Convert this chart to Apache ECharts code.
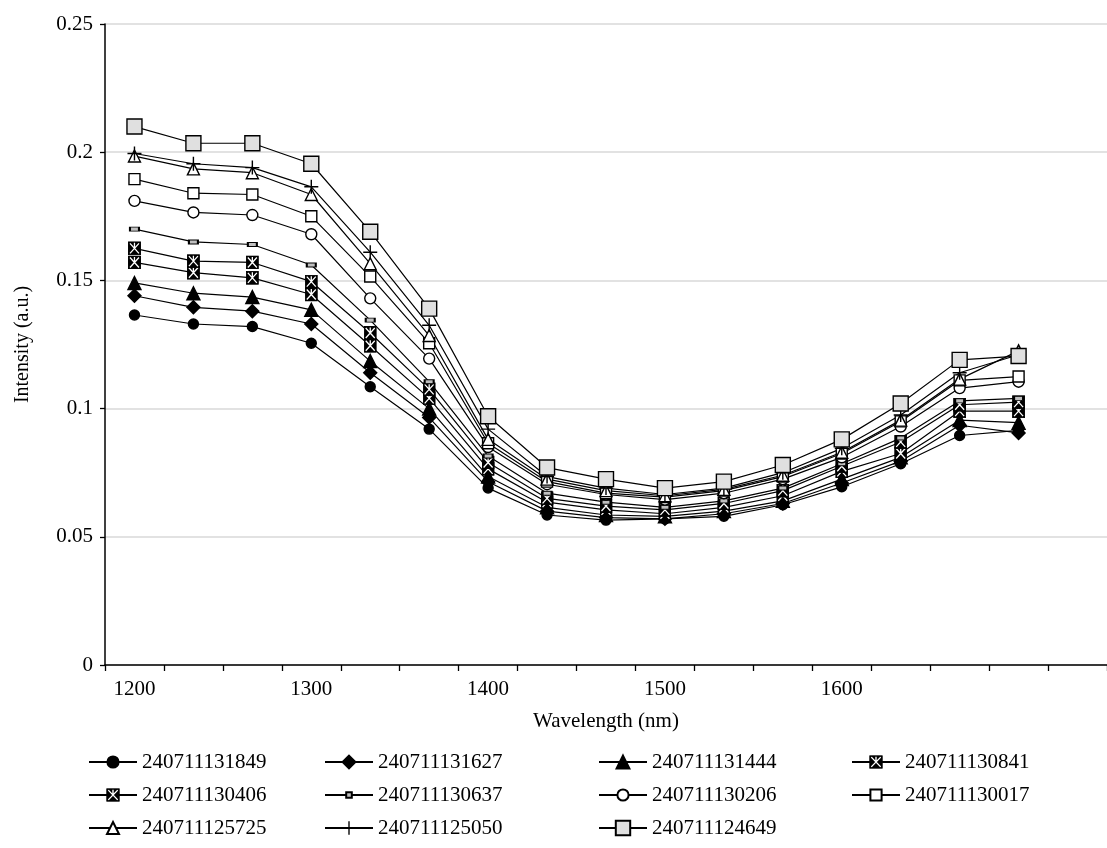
<!DOCTYPE html>
<html>
<head>
<meta charset="utf-8">
<script src="https://cdn.jsdelivr.net/npm/echarts@6/dist/echarts.min.js"></script>
<style>
  html, body { margin: 0; padding: 0; background: #fff; }
  #chart { width: 1107px; height: 848px; }
</style>
</head>
<body>
<div id="chart"></div>
<script>
'use strict';
// ---- data ----------------------------------------------------------------- //
// 16 measured points on a category axis, one spare empty slot at the end.
const wavelengths = ['1200', '1233', '1267', '1300', '1333', '1367', '1400', '1433', '1467',
  '1500', '1533', '1567', '1600', '1633', '1667', '1700', '1733'];
const shownTicks = ['1200', '1300', '1400', '1500', '1600'];

const s131849 = [0.1365, 0.133, 0.132, 0.1255, 0.1085, 0.092, 0.069, 0.0585, 0.0565, 0.057, 0.058, 0.0625, 0.0695, 0.0785, 0.0895, 0.0915];
const s131627 = [0.144, 0.1395, 0.138, 0.133, 0.114, 0.0965, 0.0715, 0.060, 0.0575, 0.057, 0.059, 0.063, 0.071, 0.0795, 0.0935, 0.0905];
const s131444 = [0.149, 0.145, 0.1435, 0.1385, 0.1185, 0.100, 0.0735, 0.0615, 0.0585, 0.058, 0.060, 0.064, 0.0725, 0.081, 0.0955, 0.0945];
const s130841 = [0.157, 0.153, 0.151, 0.1445, 0.1245, 0.104, 0.0765, 0.0635, 0.0605, 0.059, 0.0615, 0.066, 0.0755, 0.0825, 0.099, 0.099];
const s130406 = [0.1625, 0.1575, 0.157, 0.1495, 0.1295, 0.1075, 0.079, 0.065, 0.062, 0.0605, 0.063, 0.068, 0.0775, 0.087, 0.1015, 0.1025];
const s130637 = [0.170, 0.165, 0.164, 0.156, 0.1345, 0.1105, 0.0815, 0.067, 0.0635, 0.0615, 0.064, 0.069, 0.0785, 0.0885, 0.103, 0.104];
const s130206 = [0.181, 0.1765, 0.1755, 0.168, 0.143, 0.1195, 0.085, 0.0705, 0.0665, 0.0645, 0.067, 0.0725, 0.081, 0.093, 0.108, 0.1105];
const s130017 = [0.1895, 0.184, 0.1835, 0.175, 0.1515, 0.1255, 0.0865, 0.0715, 0.067, 0.0655, 0.068, 0.0735, 0.0825, 0.095, 0.111, 0.1125];
const s125725 = [0.1985, 0.1935, 0.192, 0.1835, 0.1565, 0.1285, 0.088, 0.0725, 0.068, 0.066, 0.0685, 0.074, 0.083, 0.0955, 0.1115, 0.1225];
const s125050 = [0.1995, 0.1955, 0.194, 0.1865, 0.161, 0.1325, 0.092, 0.0735, 0.069, 0.0665, 0.069, 0.075, 0.0845, 0.0975, 0.114, 0.121];
const s124649 = [0.210, 0.2035, 0.2035, 0.1955, 0.169, 0.139, 0.097, 0.077, 0.0725, 0.069, 0.0715, 0.078, 0.088, 0.102, 0.119, 0.1205];

// ---- marker shapes ------------------------------------------------------- //
const svgUri = (svg) => 'image://data:image/svg+xml;charset=utf-8,' + encodeURIComponent(svg);
const XSQUARE = svgUri('<svg xmlns="http://www.w3.org/2000/svg" width="26" height="28" viewBox="0 0 26 28">'
  + '<rect x="1" y="1" width="24" height="26" fill="#000" stroke="#000" stroke-width="2"/>'
  + '<path d="M4 4 L22 24 M22 4 L4 24 M13 3 L13 14" stroke="#fff" stroke-width="2.6" fill="none"/></svg>');
const PLUS = 'path://M-0.7,-7H0.7V-0.7H7V0.7H0.7V7H-0.7V0.7H-7V-0.7H-0.7Z';
const FONT = '"Liberation Serif", "Times New Roman", serif';

// name, values, symbol, size in plot, fill, legend icon height
const seriesDefs = [
  ['240711131849', s131849, 'circle', 10, '#000', 14],
  ['240711131627', s131627, 'diamond', 13, '#000', 16],
  ['240711131444', s131444, 'triangle', 13, '#000', 16],
  ['240711130841', s130841, XSQUARE, [13, 14], '#000', 17],
  ['240711130406', s130406, XSQUARE, [13, 14], '#000', 17],
  ['240711130637', s130637, 'rect', [9, 4], '#bfbfbf', 7],
  ['240711130206', s130206, 'circle', 11, '#fff', 14],
  ['240711130017', s130017, 'rect', 11, '#fff', 14],
  ['240711125725', s125725, 'triangle', 12, '#fff', 15],
  ['240711125050', s125050, PLUS, 14, '#000', 17],
  ['240711124649', s124649, 'rect', 15, '#e0e0e0', 18],
];

const series = seriesDefs.map(([name, vals, symbol, size, fill]) => ({
  name, type: 'line', data: vals,
  symbol, symbolSize: size, showAllSymbol: true,
  lineStyle: { color: '#000', width: 1.2 },
  itemStyle: { color: fill, borderColor: '#000', borderWidth: symbol === PLUS || String(symbol).startsWith('image') ? 0 : 1.4 },
  emphasis: { disabled: true },
  animation: false,
}));

// one legend per entry so the 4-column grid sits where the reference has it
const legendCols = [83, 319, 593, 846];
const legendRows = [757, 790, 823]; // row centres
const legends = seriesDefs.map(([name, , , , , iconH], i) => ({
  left: legendCols[i % 4], top: legendRows[Math.floor(i / 4)] - 11,
  data: [name],
  itemWidth: 48, itemHeight: iconH,
  textStyle: { fontFamily: FONT, fontSize: 21, color: '#000', lineHeight: 22 },
  selectedMode: false,
}));

const chart = echarts.init(document.getElementById('chart'), null, { renderer: 'canvas' });
chart.setOption({
  backgroundColor: '#fff',
  animation: false,
  grid: { left: 105, right: -11, top: 24, bottom: 183, containLabel: false },
  legend: legends,
  xAxis: {
    type: 'category', data: wavelengths, boundaryGap: true,
    name: 'Wavelength (nm)', nameLocation: 'middle', nameGap: 46,
    nameTextStyle: { fontFamily: FONT, fontSize: 21, color: '#000' },
    axisLine: { lineStyle: { color: '#000', width: 1.5 } },
    axisTick: { show: true, interval: 0, length: 6, lineStyle: { color: '#000', width: 1.3 } },
    axisLabel: {
      interval: 0, margin: 14, fontFamily: FONT, fontSize: 21, color: '#000',
      formatter: (v) => (shownTicks.includes(v) ? v : ''),
    },
    splitLine: { show: false },
  },
  yAxis: {
    type: 'value', min: 0, max: 0.25, interval: 0.05,
    name: 'Intensity (a.u.)', nameLocation: 'middle', nameGap: 72, nameRotate: 90,
    nameTextStyle: { fontFamily: FONT, fontSize: 20, color: '#000' },
    axisLine: { show: true, lineStyle: { color: '#000', width: 1.5 } },
    axisTick: { show: true, length: 5, lineStyle: { color: '#000', width: 1.3 } },
    axisLabel: { margin: 12, fontFamily: FONT, fontSize: 21, color: '#000' },
    splitLine: { lineStyle: { color: '#d9d9d9', width: 1.5 } },
  },
  series,
});
</script>
</body>
</html>
